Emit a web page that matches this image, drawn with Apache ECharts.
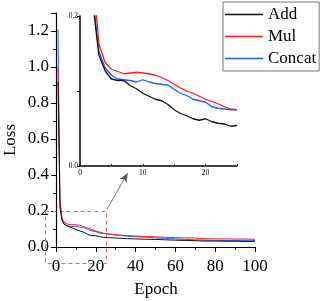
<!DOCTYPE html>
<html><head><meta charset="utf-8">
<script src="https://cdn.jsdelivr.net/npm/echarts@6/dist/echarts.min.js"></script>
<style>html,body{margin:0;padding:0;background:#fff}#c{width:321px;height:301px}</style>
</head><body><div id="c"></div>
<script>
const epochs = [1,2,3,4,5,6,7,8,9,10,11,12,13,14,15,16,17,18,19,20,21,22,23,24,25,27,30,33,36,40,45,50,55,60,65,70,72,75,80,85,90,95,100];
const addLoss = [0.92,0.22,0.148,0.127,0.116,0.114,0.114,0.107,0.103,0.097,0.093,0.089,0.087,0.082,0.075,0.070,0.067,0.063,0.061,0.063,0.059,0.057,0.056,0.053,0.054,
  0.052,0.050,0.048,0.046,0.045,0.043,0.042,0.040,0.038,0.036,0.035,0.034,0.033,0.033,0.032,0.032,0.031,0.031];
const mulLoss = [1.00,0.265,0.163,0.138,0.129,0.126,0.123,0.124,0.125,0.124,0.123,0.121,0.118,0.114,0.109,0.104,0.100,0.097,0.093,0.089,0.086,0.083,0.079,0.076,0.075,
  0.072,0.068,0.065,0.063,0.061,0.058,0.056,0.054,0.052,0.051,0.050,0.047,0.046,0.045,0.045,0.044,0.044,0.043];
const concatLoss = [1.21,0.23,0.153,0.131,0.121,0.116,0.115,0.114,0.112,0.115,0.112,0.110,0.109,0.108,0.102,0.097,0.094,0.089,0.087,0.085,0.079,0.077,0.076,0.075,0.075,
  0.071,0.066,0.063,0.060,0.057,0.054,0.051,0.048,0.045,0.042,0.040,0.039,0.038,0.037,0.036,0.036,0.035,0.035];
const seriesNames = ['Add','Mul','Concat'];
const colors = ['#111111','#ff1a1a','#1f5fff'];
const insetCount = 25;
// zoom box (data coords of main chart) and arrow
const zoomBox = [[-5.5, 0.2], [25, -0.089]];
const arrowFrom = [25.5, 0.207];
const arrowTo = [36, 0.41];

const font = "Liberation Serif";
const pairs = arr => epochs.map((e,i)=>[e, arr[i]]);
const allData = [addLoss, mulLoss, concatLoss];

const chart = echarts.init(document.getElementById('c'), null, {renderer:'canvas'});
const series = [];
allData.forEach((arr,k)=>{
  const s = {
    name: seriesNames[k], type:'line', xAxisIndex:0, yAxisIndex:0,
    data: pairs(arr), symbol:'none', smooth:false,
    lineStyle:{color:colors[k], width:1}, itemStyle:{color:colors[k]},
    z: 3 - k, silent:true
  };
  if (k === 0) {
    s.markLine = {
      silent:true, symbol:['none','arrow'], symbolSize:[6,9],
      label:{show:false},
      lineStyle:{color:'#555', width:0.8, type:'solid'},
      data:[[{coord:arrowFrom},{coord:arrowTo}]]
    };
  }
  series.push(s);
});
allData.forEach((arr,k)=>{
  series.push({
    name: seriesNames[k], type:'line', xAxisIndex:1, yAxisIndex:1,
    data: pairs(arr).slice(0, insetCount), symbol:'none',
    lineStyle:{color:colors[k], width:1.3}, itemStyle:{color:colors[k]},
    z: 3 - k, silent:true
  });
});

chart.setOption({
  animation:false,
  textStyle:{fontFamily:font},
  legend:{
    data: seriesNames.map(n=>({name:n, icon:'rect'})), left:223, top:2, orient:'vertical',
    borderColor:'#777', borderWidth:1, padding:[4,3,4,2],
    itemWidth:38, itemHeight:1.6, itemGap:5,
    textStyle:{fontFamily:font, fontSize:17, color:'#000', lineHeight:16.5}
  },
  grid:[
    {left:56, top:13, width:199, height:234},
    {left:80, top:16, width:157, height:150}
  ],
  xAxis:[
    {type:'value', gridIndex:0, min:0, max:100, interval:20,
     axisLine:{lineStyle:{color:'#000', width:1.2}},
     axisTick:{length:5, lineStyle:{color:'#000'}},
     minorTick:{show:true, splitNumber:2, length:3, lineStyle:{color:'#000'}},
     splitLine:{show:false},
     axisLabel:{color:'#000', fontSize:17, fontFamily:font, margin:11}},
    {type:'value', gridIndex:1, min:0, max:25, interval:10,
     axisLine:{lineStyle:{color:'#000', width:1.5}},
     axisTick:{length:2, inside:true, lineStyle:{color:'#000'}},
     minorTick:{show:true, splitNumber:2, length:2, lineStyle:{color:'#000'}},
     splitLine:{show:false},
     axisLabel:{color:'#000', fontSize:7.5, fontFamily:font, margin:3, showMaxLabel:false}}
  ],
  yAxis:[
    {type:'value', gridIndex:0, min:0, max:1.3, interval:0.2,
     axisLine:{show:true, lineStyle:{color:'#000', width:1.2}},
     axisTick:{show:true, length:5, lineStyle:{color:'#000'}},
     minorTick:{show:true, splitNumber:2, length:3, lineStyle:{color:'#000'}},
     splitLine:{show:false},
     axisLabel:{color:'#000', fontSize:17, fontFamily:font, margin:7, showMaxLabel:false,
       formatter: v => v.toFixed(1)}},
    {type:'value', gridIndex:1, min:0, max:0.2, interval:0.2,
     axisLine:{show:true, lineStyle:{color:'#000', width:1.5}},
     axisTick:{show:true, length:3, lineStyle:{color:'#000'}},
     minorTick:{show:true, splitNumber:2, length:3, lineStyle:{color:'#000'}},
     splitLine:{show:false},
     axisLabel:{color:'#000', fontSize:7.5, fontFamily:font, margin:2,
       formatter: v => v.toFixed(1)}}
  ],
  graphic:[
    {type:'text', id:'ylab', x:11, y:140, rotation:Math.PI/2,
     style:{text:'Loss', font:'17px "Liberation Serif"', fill:'#000', textAlign:'center', textVerticalAlign:'middle'}},
    {type:'text', id:'xlab', x:156, y:290,
     style:{text:'Epoch', font:'17px "Liberation Serif"', fill:'#000', textAlign:'center', textVerticalAlign:'middle'}}
  ],
  series: series
});

const p1 = chart.convertToPixel({gridIndex:0}, zoomBox[0]);
const p2 = chart.convertToPixel({gridIndex:0}, zoomBox[1]);
chart.setOption({
  graphic:[
    {type:'rect', id:'zoombox', z:1, silent:true,
     shape:{x:Math.round(p1[0])+0.5, y:Math.round(p1[1])+0.5, width:Math.round(p2[0]-p1[0]), height:Math.round(p2[1]-p1[1])},
     style:{fill:'none', stroke:'#ff5a5a', lineWidth:1, lineDash:[4,3]}}
  ]
});
</script></body></html>
